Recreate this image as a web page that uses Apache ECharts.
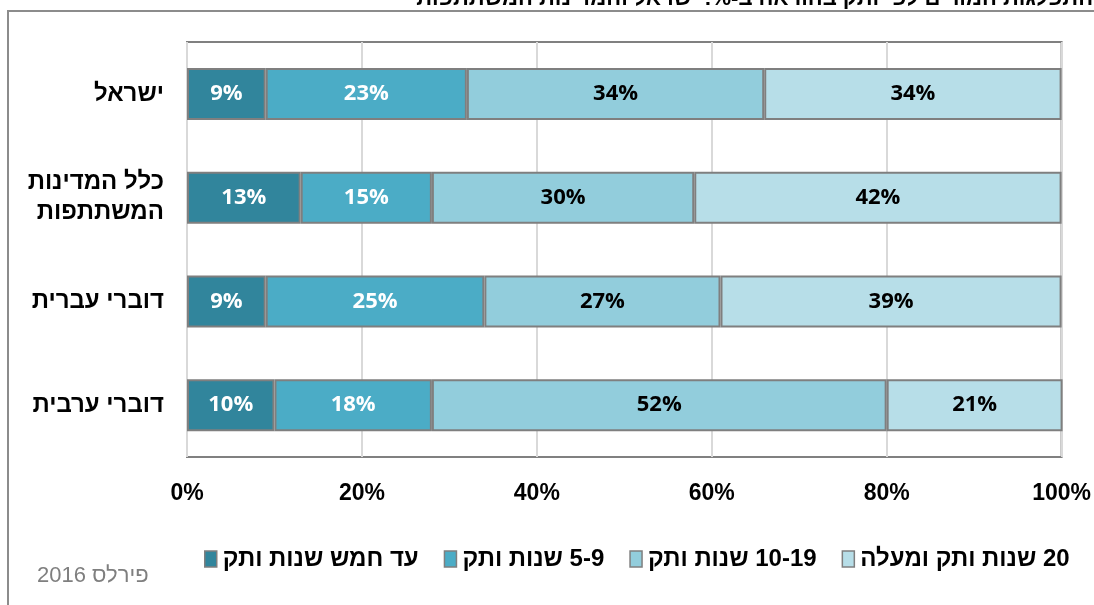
<!DOCTYPE html>
<html>
<head>
<meta charset="utf-8">
<script src="https://cdn.jsdelivr.net/npm/echarts@6/dist/echarts.min.js"></script>
<style>
  html, body { margin: 0; padding: 0; background: #fff; }
  #chart { width: 1094px; height: 605px; }
</style>
</head>
<body>
<div id="chart" dir="rtl"></div>
<script>
// Groups (top to bottom)
const categories = ['ישראל', 'כלל המדינות\nהמשתתפות', 'דוברי עברית', 'דוברי ערבית'];

// Seniority bands
const seriesNames = ['עד חמש שנות ותק', '5-9 שנות ותק', '10-19 שנות ותק', '20 שנות ותק ומעלה'];

// Share of teachers in each band (%)
const upTo5 = [9, 13, 9, 10];
const years5to9 = [23, 15, 25, 18];
const years10to19 = [34, 30, 27, 52];
const years20plus = [34, 42, 39, 21];

const xTicks = [0, 20, 40, 60, 80, 100];

const colors = ['#31859C', '#4BACC6', '#92CDDC', '#B7DEE8'];
const labelColors = ['#ffffff', '#ffffff', '#000000', '#000000'];
const values = [upTo5, years5to9, years10to19, years20plus];

const chart = echarts.init(document.getElementById('chart'), null, { renderer: 'canvas' });

const series = seriesNames.map((name, i) => ({
  name: name,
  type: 'bar',
  stack: 'total',
  barWidth: 52,
  data: values[i],
  itemStyle: { color: colors[i], borderColor: '#7f7f7f', borderWidth: 2 },
  label: {
    show: true,
    position: 'inside',
    formatter: '{c}%',
    color: labelColors[i],
    fontFamily: 'Open Sans',
    fontWeight: 'bold',
    fontSize: 22
  },
  emphasis: { disabled: true }
}));

chart.setOption({
  animation: false,
  backgroundColor: '#ffffff',
  title: {
    text: 'התפלגות המורים לפי ותק בהוראה ב-%: ישראל והמדינות המשתתפות',
    right: -4,
    top: -17,
    textStyle: { fontFamily: 'Liberation Sans', fontWeight: 'bold', fontSize: 22, color: '#000' }
  },
  graphic: [
    {
      type: 'rect',
      silent: true,
      shape: { x: 8, y: 11, width: 1200, height: 700 },
      style: { fill: 'none', stroke: '#8c8c8c', lineWidth: 2 }
    },
    {
      type: 'text',
      left: 37,
      top: 565,
      style: { text: 'פירלס 2016', fill: '#7f7f7f', fontFamily: 'Liberation Sans', fontSize: 22 }
    }
  ],
  legend: {
    left: 199,
    top: 542,
    itemWidth: 12,
    itemHeight: 16,
    itemGap: 25,
    icon: 'rect',
    selectedMode: false,
    itemStyle: { borderColor: '#7f7f7f', borderWidth: 1.5 },
    textStyle: { fontFamily: 'Liberation Sans', fontWeight: 'bold', fontSize: 24, color: '#000', padding: [0, 0, 0, 1] },
    data: seriesNames
  },
  grid: {
    left: 187,
    right: 32,
    top: 42,
    bottom: 148,
    show: true,
    borderColor: '#808080',
    borderWidth: 2,
    containLabel: false
  },
  xAxis: {
    type: 'value',
    min: xTicks[0],
    max: xTicks[xTicks.length - 1],
    interval: 20,
    axisLine: { show: false },
    axisTick: { show: false },
    splitLine: { show: true, lineStyle: { color: '#d9d9d9', width: 2 } },
    axisLabel: {
      margin: 25,
      formatter: '{value}%',
      fontFamily: 'Liberation Sans',
      fontWeight: 'bold',
      fontSize: 23,
      color: '#000'
    }
  },
  yAxis: {
    type: 'category',
    inverse: true,
    data: categories,
    axisLine: { show: false },
    axisTick: { show: false },
    axisLabel: {
      margin: 23,
      fontFamily: 'Liberation Sans',
      fontWeight: 'bold',
      fontSize: 24,
      lineHeight: 30,
      color: '#000'
    }
  },
  series: series
});
</script>
</body>
</html>
